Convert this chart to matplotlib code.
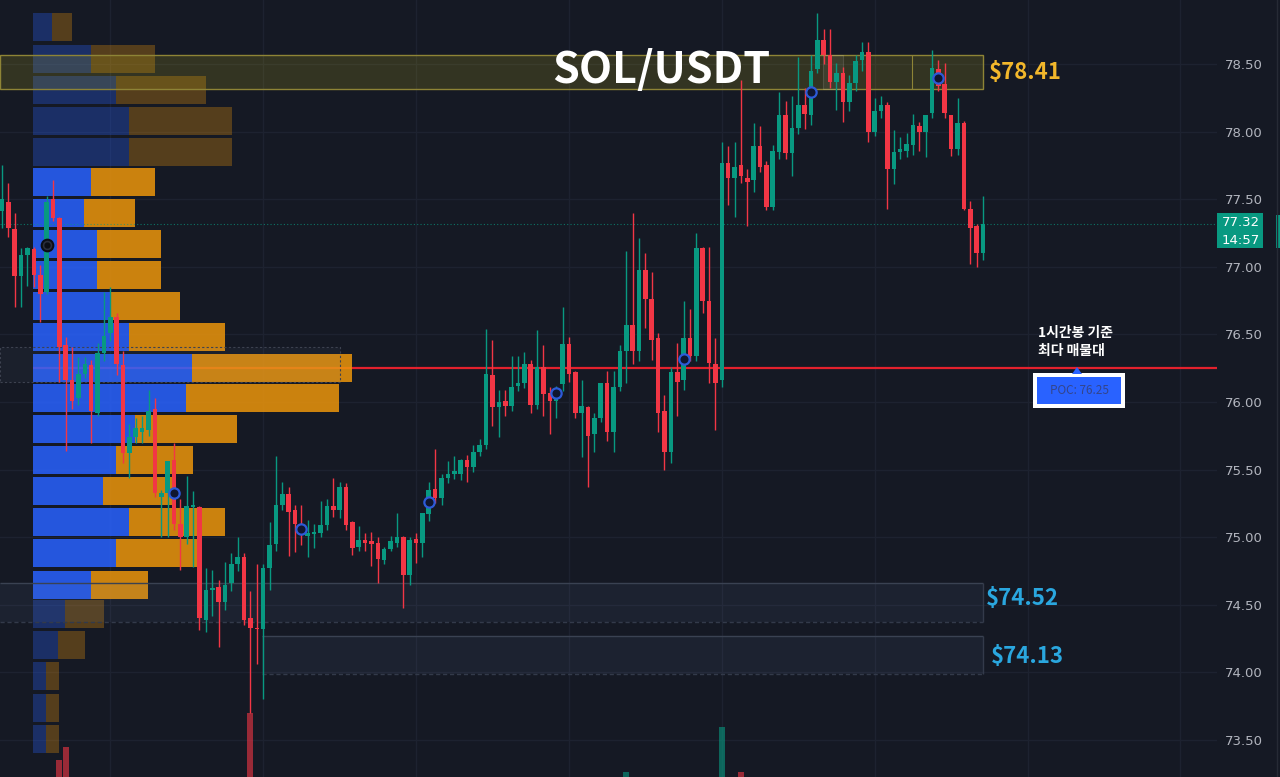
import numpy as np
import matplotlib
matplotlib.use("Agg")
import matplotlib.pyplot as plt
from matplotlib.patches import Rectangle, Polygon
from matplotlib.lines import Line2D

# ---- colours
BG = "#151924"
UP = "#089981"
DN = "#f23645"
BLUE = "#2962ff"
ORANGE = "#ec950b"
GRID = "#1d2230"
AXIS_TXT = "#b2b5be"
FONT = ["Noto Sans CJK KR", "DejaVu Sans"]

# ---- 1h candles SOL/USDT
opens = [77.41, 77.48, 77.28, 76.93, 77.09, 77.13, 76.94, 76.81, 77.50, 77.36,
         76.42, 76.16, 76.03, 76.21, 76.27, 75.92, 76.36, 76.51, 76.63, 76.27,
         75.62, 75.74, 75.78, 75.79, 75.95, 75.30, 75.33, 75.57, 75.10, 75.00,
         75.22, 75.22, 74.39, 74.61, 74.63, 74.52, 74.66, 74.80, 74.85, 74.40,
         74.33, 74.32, 74.77, 74.95, 75.24, 75.32, 75.20, 75.10, 75.01, 75.02,
         75.03, 75.09, 75.23, 75.20, 75.37, 75.11, 74.93, 74.98, 74.97, 74.96,
         74.83, 74.91, 74.96, 75.00, 74.72, 74.99, 74.96, 75.17, 75.36, 75.29,
         75.44, 75.47, 75.47, 75.57, 75.52, 75.63, 75.68, 76.20, 75.96, 76.01,
         75.97, 76.12, 76.14, 76.28, 75.98, 76.26, 76.07, 76.01, 76.13, 76.43,
         76.22, 75.92, 75.96, 75.76, 75.88, 76.14, 75.78, 76.11, 76.38, 76.57,
         76.38, 76.98, 76.76, 76.47, 75.93, 75.63, 76.22, 76.16, 76.47, 76.34,
         77.14, 76.75, 76.28, 76.16, 77.77, 77.66, 77.75, 77.66, 77.64, 77.89,
         77.75, 77.44, 77.85, 78.12, 77.84, 78.03, 78.20, 78.12, 78.46, 78.68,
         78.57, 78.37, 78.43, 78.22, 78.36, 78.53, 78.59, 78.00, 78.15, 78.20,
         77.72, 77.85, 77.86, 77.90, 78.04, 78.00, 78.14, 78.46, 78.35, 78.12,
         77.87, 78.06, 77.43, 77.30, 77.10]
highs = [77.75, 77.62, 77.40, 77.14, 77.15, 77.15, 77.01, 77.52, 77.64, 77.37,
         76.48, 76.41, 76.33, 76.33, 76.31, 76.44, 76.81, 76.85, 76.66, 76.38,
         75.84, 75.88, 75.90, 76.09, 76.03, 75.35, 75.56, 75.70, 75.28, 75.45,
         75.34, 75.23, 74.77, 74.76, 74.68, 74.82, 74.88, 75.00, 74.88, 74.60,
         74.80, 74.80, 75.11, 75.60, 75.41, 75.37, 75.24, 75.24, 75.13, 75.10,
         75.27, 75.28, 75.44, 75.41, 75.40, 75.12, 75.08, 75.03, 75.04, 75.00,
         74.93, 75.01, 75.18, 75.01, 75.00, 75.03, 75.18, 75.41, 75.65, 75.47,
         75.56, 75.60, 75.58, 75.61, 75.68, 75.73, 76.54, 76.46, 76.09, 76.09,
         76.34, 76.34, 76.37, 76.31, 76.53, 76.42, 76.11, 76.12, 76.70, 76.48,
         76.23, 76.16, 75.97, 75.92, 76.14, 76.23, 76.23, 76.42, 77.12, 77.40,
         77.21, 77.10, 76.96, 76.51, 76.05, 76.26, 76.44, 76.75, 76.69, 77.25,
         77.15, 77.15, 76.47, 77.92, 77.89, 77.92, 78.38, 77.72, 78.06, 78.04,
         77.78, 77.90, 78.29, 78.23, 78.26, 78.55, 78.32, 78.57, 78.88, 78.76,
         78.76, 78.51, 78.48, 78.42, 78.57, 78.66, 78.66, 78.25, 78.26, 78.22,
         78.01, 77.96, 77.99, 78.13, 78.07, 78.12, 78.60, 78.53, 78.51, 78.12,
         78.25, 78.08, 77.49, 77.32, 77.52]
lows = [77.29, 77.22, 76.70, 76.70, 76.86, 76.85, 76.59, 76.80, 77.34, 76.15,
        75.64, 75.95, 75.98, 76.18, 75.70, 75.90, 76.30, 76.45, 76.20, 75.55,
        75.44, 75.70, 75.70, 75.75, 75.30, 75.00, 75.00, 75.05, 74.76, 74.95,
        74.78, 74.31, 74.30, 74.42, 74.19, 74.46, 74.60, 74.75, 74.35, 73.70,
        74.06, 73.80, 74.61, 74.90, 75.20, 74.86, 74.89, 74.94, 74.85, 74.92,
        75.00, 75.05, 75.15, 75.14, 75.05, 74.87, 74.90, 74.90, 74.79, 74.66,
        74.80, 74.90, 74.93, 74.48, 74.65, 74.81, 74.85, 75.12, 75.25, 75.24,
        75.40, 75.43, 75.42, 75.41, 75.48, 75.60, 75.65, 75.82, 75.74, 75.90,
        75.93, 76.08, 76.10, 75.92, 75.95, 75.90, 75.76, 75.88, 76.08, 76.15,
        75.88, 75.59, 75.37, 75.63, 75.85, 75.71, 75.63, 76.08, 76.14, 76.28,
        76.30, 76.55, 76.31, 75.78, 75.50, 75.55, 75.90, 76.09, 76.30, 76.30,
        76.66, 76.14, 75.79, 76.11, 77.46, 77.37, 77.62, 77.30, 77.55, 77.70,
        77.42, 77.42, 77.80, 77.80, 77.67, 77.98, 78.02, 78.05, 78.43, 78.50,
        78.32, 78.16, 78.07, 78.15, 78.30, 78.45, 77.92, 77.97, 78.10, 77.43,
        77.61, 77.80, 77.81, 77.83, 77.86, 77.81, 78.10, 78.30, 78.10, 77.82,
        77.83, 77.42, 77.02, 77.00, 77.05]
closes = [77.50, 77.29, 76.93, 77.09, 77.14, 76.94, 76.80, 77.48, 77.36, 76.41,
          76.16, 76.01, 76.21, 76.28, 75.93, 76.36, 76.49, 76.63, 76.28, 75.62,
          75.74, 75.81, 75.81, 75.93, 75.33, 75.33, 75.56, 75.10, 75.00, 75.23,
          75.24, 74.40, 74.61, 74.62, 74.52, 74.65, 74.80, 74.85, 74.39, 74.33,
          74.32, 74.77, 74.94, 75.24, 75.32, 75.19, 75.10, 75.04, 75.03, 75.04,
          75.09, 75.23, 75.20, 75.37, 75.09, 74.92, 74.98, 74.96, 74.95, 74.84,
          74.91, 74.97, 75.00, 74.72, 74.98, 74.96, 75.18, 75.35, 75.29, 75.44,
          75.47, 75.49, 75.57, 75.52, 75.63, 75.68, 76.21, 75.96, 76.00, 75.97,
          76.11, 76.14, 76.28, 75.98, 76.26, 76.06, 76.01, 76.03, 76.43, 76.21,
          75.92, 75.97, 75.75, 75.88, 76.14, 75.78, 76.11, 76.38, 76.57, 76.38,
          76.98, 76.76, 76.46, 75.92, 75.63, 76.22, 76.15, 76.47, 76.34, 77.14,
          76.75, 76.29, 76.14, 77.77, 77.66, 77.74, 77.67, 77.63, 77.89, 77.74,
          77.44, 77.86, 78.12, 77.84, 78.03, 78.20, 78.13, 78.45, 78.68, 78.57,
          78.37, 78.43, 78.22, 78.36, 78.52, 78.59, 78.00, 78.15, 78.20, 77.72,
          77.85, 77.87, 77.91, 78.05, 78.00, 78.12, 78.47, 78.34, 78.14, 77.87,
          78.06, 77.43, 77.29, 77.10, 77.32]

# volume bars that stand out at the bottom (bar index -> volume, arbitrary units)
vol_idx = [9, 10, 39, 98, 113, 116]
vol_val = [17, 30, 64, 5, 50, 5]

# signal circles every 20 bars
marker_idx = [7, 27, 47, 67, 87, 107, 127, 147]
marker_price = [77.16, 75.33, 75.06, 75.26, 76.07, 76.32, 78.29, 78.40]

# volume profile (row price, buy part, sell part)
prof_price = [78.77, 78.54, 78.31, 78.08, 77.85, 77.63, 77.40, 77.17, 76.94, 76.71,
              76.48, 76.25, 76.03, 75.80, 75.57, 75.34, 75.11, 74.88, 74.65, 74.43,
              74.20, 73.97, 73.74, 73.51]
prof_buy = [19, 58, 83, 96, 96, 58, 51, 64, 64, 77, 96, 159, 153, 102, 83, 70,
            96, 83, 58, 32, 25, 13, 13, 13]
prof_sell = [20, 64, 90, 103, 103, 64, 51, 64, 64, 70, 96, 160, 153, 102, 77, 71,
             96, 81, 57, 39, 27, 13, 13, 13]
va_high, va_low = 77.63, 74.65
poc = 76.25
last_price = 77.32

# zones (price ranges)
res_zone = (78.315, 78.567)
sup_zone1 = (74.373, 74.661)
sup_zone2 = (73.988, 74.269)
poc_box = (76.148, 76.407)

# ---- pixel helpers
W, H = 1280, 777
X0, STEP = 2.0, 6.37     # first bar pixel and bar spacing
PPU = 135.2              # pixels per 1 USDT


def px(x):
    return (x - X0) / STEP


def fx(x):
    return x / W


def fy(y):
    return 1 - y / H


fig = plt.figure(figsize=(12.8, 7.77), dpi=100, facecolor=BG)
ax = fig.add_axes([0, 0, 1217 / W, 1])
ax.set_facecolor(BG)
ax.set_xlim(px(0), px(1217))
ax.set_ylim(78.5 - 713 / PPU, 78.5 + 64 / PPU)
for s in ax.spines.values():
    s.set_visible(False)

yt = np.arange(73.5, 78.51, 0.5)
ax.set_yticks(yt)
ax.set_yticklabels([f"{v:.2f}" for v in yt])
ax.yaxis.tick_right()
ax.tick_params(axis="y", length=0, pad=6, labelcolor=AXIS_TXT, labelsize=9.5)
ax.set_xticks([17, 41, 65, 89, 113, 137, 161, 185])
ax.tick_params(axis="x", length=0, labelbottom=False)
ax.grid(True, color=GRID, lw=1)
ax.set_axisbelow(True)

# POC line (behind the profile)
ax.hlines(poc, px(33), px(1217), color="#e3212d", lw=1.6, zorder=0.9)

# volume profile
row_h = 28 / PPU
for p, b, s in zip(prof_price, prof_buy, prof_sell):
    a = 0.85 if va_low <= p <= va_high else 0.3
    ax.barh(p, b / STEP, left=px(33), height=row_h, color=BLUE, alpha=a, lw=0, zorder=1)
    ax.barh(p, s / STEP, left=px(33) + b / STEP, height=row_h, color=ORANGE, alpha=a, lw=0, zorder=1)

# zones
ax.add_patch(Rectangle((px(0), res_zone[0]), px(983) - px(0), res_zone[1] - res_zone[0],
                       facecolor=(0.75, 0.7, 0.1, 0.18), edgecolor="#8e8436", lw=1, zorder=2))
ax.add_patch(Rectangle((px(823), res_zone[0]), px(843) - px(823), res_zone[1] - res_zone[0],
                       facecolor=(1, 1, 1, 0.06), edgecolor=(1, 1, 1, 0.12), lw=0.8, zorder=2))
ax.vlines(px(912), res_zone[0], res_zone[1], color="#8e8436", lw=0.8, zorder=2)
for (lo, hi), x1 in ((sup_zone1, 0), (sup_zone2, 262)):
    ax.add_patch(Rectangle((px(x1), lo), px(983) - px(x1), hi - lo,
                           facecolor=(0.47, 0.56, 0.75, 0.08), edgecolor="none", zorder=2))
    ax.hlines(hi, px(x1), px(983), color="#3a4252", lw=1, zorder=2)
    ax.hlines(lo, px(x1), px(983), color="#333a4a", lw=1, ls=(0, (3, 2)), zorder=2)
    ax.vlines(px(983), lo, hi, color="#333a4a", lw=1, zorder=2)
ax.add_patch(Rectangle((px(0), poc_box[0]), px(340) - px(0), poc_box[1] - poc_box[0],
                       facecolor=(0.6, 0.65, 0.8, 0.05), edgecolor="#3d4250", lw=0.8,
                       ls=(0, (2, 2)), zorder=1.5))

# last price dotted line
ax.axhline(last_price, color=UP, lw=0.8, ls=(0, (1, 2)), alpha=0.7, zorder=3)

# candles
o, h, l, c = map(np.array, (opens, highs, lows, closes))
idx = np.arange(len(o))
col = np.where(c >= o, UP, DN)
ax.vlines(idx, l, h, colors=col, lw=1, zorder=4)
body = np.maximum(np.abs(c - o), 1.5 / PPU)
ax.bar(idx, body, bottom=np.minimum(o, c), width=0.72, color=col, lw=0, zorder=4)

# signal circles
ax.scatter(marker_idx[1:], marker_price[1:], s=55, facecolors="#101630",
           edgecolors="#2d5ad8", linewidths=1.6, zorder=5)
ax.scatter(marker_idx[:1], marker_price[:1], s=70, facecolors="#2a2f3d",
           edgecolors="#0b0d14", linewidths=1.5, zorder=5)
ax.scatter(marker_idx[:1], marker_price[:1], s=12, color="#0b0d14", zorder=6)

# volume overlay
axv = fig.add_axes([0, 0, 1217 / W, 1], sharex=ax)
axv.patch.set_alpha(0)
axv.axis("off")
axv.set_ylim(0, H)
vcol = [UP if closes[i] >= opens[i] else DN for i in vol_idx]
axv.bar(vol_idx, vol_val, width=0.95, color=vcol, alpha=0.6, lw=0)
axv.set_xlim(px(0), px(1217))

# ---- texts
fig.text(fx(661), fy(70), "SOL/USDT", color="white", fontsize=31, fontweight="bold",
         family=FONT, ha="center", va="center")
fig.text(fx(989), fy(72), "$78.41", color="#f2b72b", fontsize=16, fontweight="bold",
         family=FONT, ha="left", va="center")
fig.text(fx(986), fy(598), "$74.52", color="#2aa7df", fontsize=16, fontweight="bold",
         family=FONT, ha="left", va="center")
fig.text(fx(991), fy(656), "$74.13", color="#2aa7df", fontsize=16, fontweight="bold",
         family=FONT, ha="left", va="center")

fig.text(fx(1038), fy(333), "1시간봉 기준", color="white", fontsize=10, fontweight="bold",
         family=FONT, ha="left", va="center")
fig.text(fx(1038), fy(351), "최다 매물대", color="white", fontsize=10, fontweight="bold",
         family=FONT, ha="left", va="center")

# POC label box
fig.add_artist(Rectangle((fx(1033), fy(408)), 92 / W, 35 / H, transform=fig.transFigure,
                         facecolor="white", edgecolor="none"))
fig.add_artist(Rectangle((fx(1037), fy(404)), 84 / W, 27 / H, transform=fig.transFigure,
                         facecolor=BLUE, edgecolor="none"))
fig.add_artist(Polygon([(fx(1072), fy(374)), (fx(1082), fy(374)), (fx(1077), fy(367))],
                       closed=True, transform=fig.transFigure, facecolor=BLUE, edgecolor="none"))
fig.text(fx(1079), fy(390), f"POC: {poc:.2f}", color="#34458a", fontsize=8.5,
         family=FONT, ha="center", va="center")

# last price tag on the scale
fig.add_artist(Rectangle((fx(1217), fy(248)), 46 / W, 35 / H, transform=fig.transFigure,
                         facecolor=UP, edgecolor="none"))
fig.text(fx(1241), fy(223), f"{last_price:.2f}", color="white", fontsize=9.5,
         ha="center", va="center")
fig.text(fx(1241), fy(240), "14:57", color="white", fontsize=9.5, ha="center", va="center")
# top scale label, cut by the top edge as on the screen capture
fig.text(fx(1226), fy(-4), "79.00", color=AXIS_TXT, fontsize=9.5, ha="left", va="center")

# right pane edge
fig.add_artist(Line2D([fx(1277), fx(1277)], [0, 1], transform=fig.transFigure,
                      color="#262a35", lw=1))
fig.add_artist(Rectangle((fx(1276), fy(248)), 4 / W, 33 / H, transform=fig.transFigure,
                         facecolor=UP, edgecolor="none"))

fig.savefig("out.png", dpi=100, facecolor=BG)
